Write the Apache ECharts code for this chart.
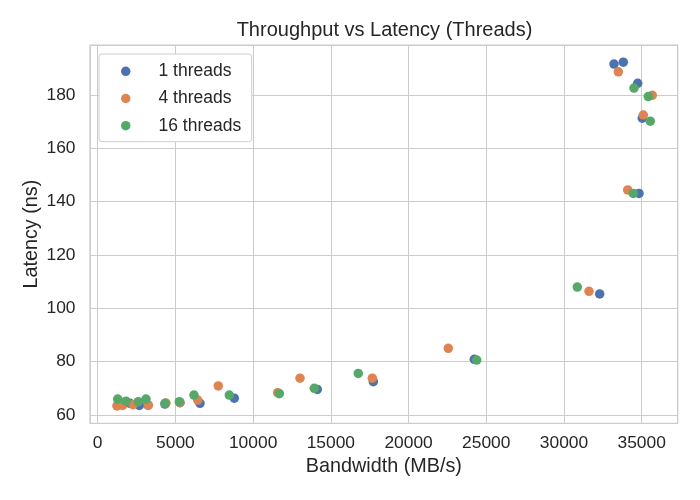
<!DOCTYPE html>
<html>
<head>
<meta charset="utf-8">
<script src="https://cdn.jsdelivr.net/npm/echarts@6/dist/echarts.min.js"></script>
<style>html,body{margin:0;padding:0;background:#fff}#c{width:700px;height:500px}</style>
</head>
<body>
<div id="c"></div>
<script>
var seriesNames = ['1 threads', '4 threads', '16 threads'];
var seriesColors = ['#4C72B0', '#DD8452', '#55A868'];

var threads1 = [
  [1287, 63.6], [2078, 64.4], [2676, 63.6], [3236, 63.7], [4330, 64.1], [5295, 64.6],
  [6582, 64.4], [8789, 66.3], [14128, 69.6], [17732, 72.5], [24230, 80.9], [32297, 105.4],
  [34826, 143.1], [35038, 171.3], [34742, 184.4], [33218, 191.6], [33816, 192.3]
];
var threads4 = [
  [1240, 63.4], [1608, 63.6], [2271, 63.9], [3256, 63.7], [4394, 64.5], [5295, 64.7],
  [6434, 65.6], [7759, 70.9], [11581, 68.4], [13016, 73.8], [17667, 73.8], [22557, 85.0],
  [31609, 106.4], [34099, 144.4], [35103, 172.5], [35682, 179.9], [33494, 188.7]
];
var threads16 = [
  [1287, 66.0], [1821, 65.2], [2612, 65.0], [3108, 66.0], [4330, 64.4], [5250, 65.0],
  [6196, 67.5], [8467, 67.5], [11684, 68.0], [13935, 70.0], [16766, 75.6], [24384, 80.6],
  [30857, 108.0], [34459, 143.1], [35553, 170.2], [35424, 179.4], [34504, 182.6]
];

var xTickLabels = [0, 5000, 10000, 15000, 20000, 25000, 30000, 35000];
var yTickLabels = [60, 80, 100, 120, 140, 160, 180];

var FONT = 'Liberation Sans, Arial, sans-serif';
var TXT = '#262626';

var chart = echarts.init(document.getElementById('c'), null, {renderer: 'canvas'});
var dataSets = [threads1, threads4, threads16];

chart.setOption({
  animation: false,
  backgroundColor: '#ffffff',
  textStyle: {fontFamily: FONT},
  title: {
    text: 'Throughput vs Latency (Threads)',
    left: 384.5, textAlign: 'center', top: 20, padding: 0,
    textStyle: {fontFamily: FONT, fontSize: 20, fontWeight: 'normal', color: TXT}
  },
  legend: {
    orient: 'vertical', left: 99, top: 54,
    padding: [8.3, 10.5, 7, 22],
    itemWidth: 9.5, itemHeight: 9.5, itemGap: 9.2,
    icon: 'circle',
    backgroundColor: '#ffffff', borderColor: '#cccccc', borderWidth: 1, borderRadius: 3,
    textStyle: {fontFamily: FONT, fontSize: 17.5, color: TXT, padding: [0, 0, 0, 23]},
    data: seriesNames
  },
  grid: {
    left: 90, right: 22.3, top: 45, bottom: 76.7,
    show: true, borderColor: '#cccccc', borderWidth: 1.25, backgroundColor: 'transparent',
    containLabel: false
  },
  xAxis: {
    type: 'value', min: -495, max: 37316, splitNumber: 8,
    name: 'Bandwidth (MB/s)', nameLocation: 'middle', nameGap: 33.5, nameMoveOverlap: false,
    nameTextStyle: {fontFamily: FONT, fontSize: 19.8, color: TXT},
    axisLine: {show: false}, axisTick: {show: false},
    splitLine: {show: true, lineStyle: {color: '#cccccc', width: 1}},
    axisLabel: {
      fontFamily: FONT, fontSize: 17.4, color: TXT, margin: 11,
      showMinLabel: true, showMaxLabel: true,
      formatter: function (v) { return xTickLabels.indexOf(Math.round(v)) >= 0 ? String(Math.round(v)) : ''; }
    }
  },
  yAxis: {
    type: 'value', min: 56.9, max: 198.75, splitNumber: 7,
    name: 'Latency (ns)', nameLocation: 'middle', nameGap: 48, nameMoveOverlap: false,
    nameTextStyle: {fontFamily: FONT, fontSize: 19.8, color: TXT},
    axisLine: {show: false}, axisTick: {show: false},
    splitLine: {show: true, lineStyle: {color: '#cccccc', width: 1}},
    axisLabel: {
      fontFamily: FONT, fontSize: 17.4, color: TXT, margin: 14.5,
      formatter: function (v) {
        var r = Math.round(v);
        return (Math.abs(v - r) < 1e-6 && yTickLabels.indexOf(r) >= 0) ? String(r) : '';
      }
    }
  },
  series: seriesNames.map(function (n, i) {
    return {
      name: n, type: 'scatter', data: dataSets[i],
      symbol: 'circle', symbolSize: 9.5,
      itemStyle: {color: seriesColors[i], opacity: 1},
      emphasis: {disabled: true}
    };
  })
});
</script>
</body>
</html>
